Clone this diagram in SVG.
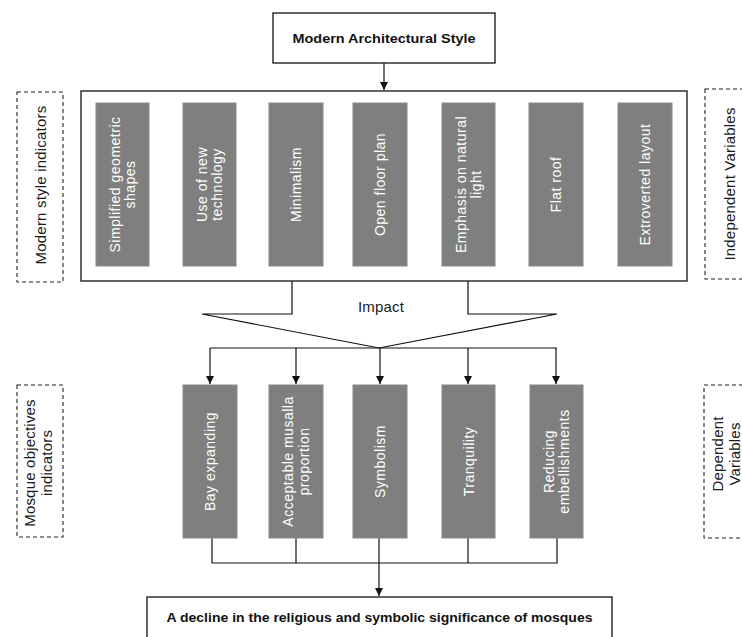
<svg xmlns="http://www.w3.org/2000/svg" width="742" height="637" viewBox="0 0 742 637">
<style>
.box{fill:#fff;stroke:#222;stroke-width:1.4}
.gray{fill:#7f7f7f;stroke:#8a8a8a;stroke-width:1}
.dash{fill:#fff;stroke:#222;stroke-width:1.1;stroke-dasharray:4 3}
.vt{font-family:"Liberation Sans",Arial,sans-serif;font-size:14px;letter-spacing:0.5px;fill:#fff;text-anchor:middle}
.lt{font-family:"Liberation Sans",Arial,sans-serif;font-size:15px;letter-spacing:0.2px;fill:#1a1a1a;text-anchor:middle}
.bt{font-family:"Liberation Sans",Arial,sans-serif;font-weight:bold;font-size:13px;fill:#111;text-anchor:middle}
.ln{fill:none;stroke:#111;stroke-width:1.2}
</style>
<defs>
<marker id="ah" viewBox="0 0 10 10" refX="10" refY="5" markerWidth="8" markerHeight="8" markerUnits="userSpaceOnUse" orient="auto">
<path d="M0,0 L10,5 L0,10 Z" fill="#111"/>
</marker>
</defs>
<rect width="742" height="637" fill="#fff"/>

<g id="connectors">
<line class="ln" x1="384" y1="63" x2="384" y2="90" marker-end="url(#ah)"/>
<polyline class="ln" points="292,281 292,314 202,314 379,348 557,314 468,314 468,281"/>
<line class="ln" x1="210" y1="348" x2="557" y2="348"/>
<line class="ln" x1="210" y1="348" x2="210" y2="384" marker-end="url(#ah)"/>
<line class="ln" x1="296" y1="348" x2="296" y2="384" marker-end="url(#ah)"/>
<line class="ln" x1="380" y1="348" x2="380" y2="384" marker-end="url(#ah)"/>
<line class="ln" x1="468" y1="348" x2="468" y2="384" marker-end="url(#ah)"/>
<line class="ln" x1="556" y1="348" x2="556" y2="384" marker-end="url(#ah)"/>
<polyline class="ln" points="212,538 212,563 557,563 557,538"/>
<line class="ln" x1="296" y1="538" x2="296" y2="563"/>
<line class="ln" x1="468" y1="538" x2="468" y2="563"/>
<line class="ln" x1="379" y1="538" x2="379" y2="596" marker-end="url(#ah)"/>
</g>

<g id="title">
<rect class="box" x="273" y="13" width="222" height="50"/>
<text class="bt" x="384" y="43" textLength="183" lengthAdjust="spacingAndGlyphs">Modern Architectural Style</text>
</g>

<g id="indicators-box">
<rect class="box" x="81" y="91" width="606" height="190"/>
</g>

<g id="impact-label">
<text class="lt" x="381" y="312" letter-spacing="0.8">Impact</text>
</g>

<g id="n-simplified">
<rect class="gray" x="96" y="103" width="53" height="163"/>
<g transform="translate(122.5,184.5) rotate(-90)"><text class="vt" x="0" y="-3">Simplified geometric</text><text class="vt" x="0" y="12.5">shapes</text></g>
</g>
<g id="n-technology">
<rect class="gray" x="183" y="103" width="53" height="163"/>
<g transform="translate(209.5,184.5) rotate(-90)"><text class="vt" x="0" y="-3">Use of new</text><text class="vt" x="0" y="12.5">technology</text></g>
</g>
<g id="n-minimalism">
<rect class="gray" x="269" y="103" width="54" height="163"/>
<g transform="translate(296,184.5) rotate(-90)"><text class="vt" x="0" y="5">Minimalism</text></g>
</g>
<g id="n-openplan">
<rect class="gray" x="353" y="103" width="54" height="163"/>
<g transform="translate(380,184.5) rotate(-90)"><text class="vt" x="0" y="5">Open floor plan</text></g>
</g>
<g id="n-light">
<rect class="gray" x="442" y="103" width="53" height="163"/>
<g transform="translate(468.5,184.5) rotate(-90)"><text class="vt" x="0" y="-3">Emphasis on natural</text><text class="vt" x="0" y="12.5">light</text></g>
</g>
<g id="n-flatroof">
<rect class="gray" x="529" y="103" width="54" height="163"/>
<g transform="translate(556,184.5) rotate(-90)"><text class="vt" x="0" y="5">Flat roof</text></g>
</g>
<g id="n-extroverted">
<rect class="gray" x="618" y="103" width="54" height="163"/>
<g transform="translate(645,184.5) rotate(-90)"><text class="vt" x="0" y="5">Extroverted layout</text></g>
</g>

<g id="n-bay">
<rect class="gray" x="183" y="385" width="54" height="153"/>
<g transform="translate(210,461.5) rotate(-90)"><text class="vt" x="0" y="5">Bay expanding</text></g>
</g>
<g id="n-musalla">
<rect class="gray" x="269" y="385" width="54" height="153"/>
<g transform="translate(296,461.5) rotate(-90)"><text class="vt" x="0" y="-3">Acceptable musalla</text><text class="vt" x="0" y="12.5">proportion</text></g>
</g>
<g id="n-symbolism">
<rect class="gray" x="353" y="385" width="54" height="153"/>
<g transform="translate(380,461.5) rotate(-90)"><text class="vt" x="0" y="5">Symbolism</text></g>
</g>
<g id="n-tranquility">
<rect class="gray" x="442" y="385" width="53" height="153"/>
<g transform="translate(468.5,461.5) rotate(-90)"><text class="vt" x="0" y="5">Tranquility</text></g>
</g>
<g id="n-reducing">
<rect class="gray" x="530" y="385" width="53" height="153"/>
<g transform="translate(556.5,461.5) rotate(-90)"><text class="vt" x="0" y="-3">Reducing</text><text class="vt" x="0" y="12.5">embellishments</text></g>
</g>

<g id="result">
<rect class="box" x="147" y="597" width="465" height="60"/>
<text class="bt" x="379.5" y="622" textLength="426" lengthAdjust="spacingAndGlyphs">A decline in the religious and symbolic significance of mosques</text>
</g>

<g id="label-modern">
<rect class="dash" x="17" y="92" width="46" height="190"/>
<g transform="translate(40,185) rotate(-90)"><text class="lt" x="0" y="5.5">Modern style indicators</text></g>
</g>
<g id="label-independent">
<rect class="dash" x="705" y="89" width="50" height="190"/>
<g transform="translate(729,184) rotate(-90)"><text class="lt" x="0" y="5.5">Independent Variables</text></g>
</g>
<g id="label-mosque">
<rect class="dash" x="17" y="385" width="46" height="152"/>
<g transform="translate(38,463) rotate(-90)"><text class="lt" x="0" y="-3.5">Mosque objectives</text><text class="lt" x="0" y="14">indicators</text></g>
</g>
<g id="label-dependent">
<rect class="dash" x="704" y="385" width="50" height="153"/>
<g transform="translate(726,454) rotate(-90)"><text class="lt" x="0" y="-3.5">Dependent</text><text class="lt" x="0" y="14">Variables</text></g>
</g>
</svg>
